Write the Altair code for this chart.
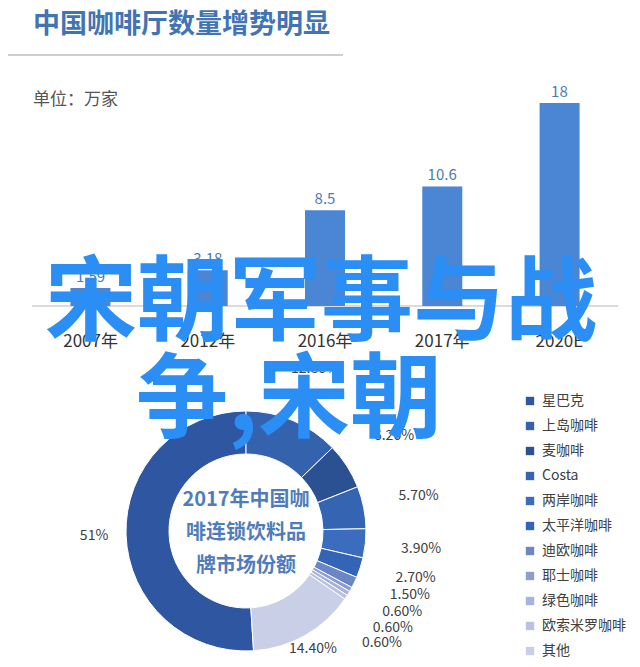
import math
import altair as alt
import pandas as pd

# ---------------- data ----------------
years = ["2007", "2012", "2016", "2017", "2020E"]
year_labels = ["2007年", "2012年", "2016年", "2017年", "2020E"]
shops = [1.59, 3.18, 8.5, 10.6, 18]

brands = ["星巴克", "上岛咖啡", "麦咖啡", "Costa", "两岸咖啡", "太平洋咖啡",
          "迪欧咖啡", "耶士咖啡", "绿色咖啡", "欧索米罗咖啡", "其他"]
shares = [51, 12.8, 6.2, 5.7, 3.9, 2.7, 1.5, 0.6, 0.6, 0.6, 14.4]
share_labels = ["51%", "12.80%", "6.20%", "5.70%", "3.90%", "2.70%",
                "1.50%", "0.60%", "0.60%", "0.60%", "14.40%"]
# position of each brand in the clockwise drawing order from 12 o'clock
draw_order = [10, 0, 1, 2, 3, 4, 5, 6, 7, 8, 9]
brand_colors = ["#2e56a1", "#3562ad", "#2c5193", "#3565b2", "#3b6cbd", "#3464b5",
                "#6a86c4", "#8c9dcf", "#a6b3da", "#b9c2e1", "#c9cfe7"]

FONT = "Noto Sans CJK SC"

# ---------------- bar chart ----------------
bar_df = pd.DataFrame({"year": years, "label": year_labels, "value": shops})
xs = alt.Scale(domain=years, range=[24, 610], paddingInner=0.659, paddingOuter=0.3275)
ys = alt.Scale(domain=[0, 18], range=[298, 95])

bars = alt.Chart(bar_df).mark_bar(color="#4a86d4").encode(
    x=alt.X("year:N", scale=xs, axis=None),
    y=alt.Y("value:Q", scale=ys, axis=None),
)
bar_text = alt.Chart(bar_df).mark_text(
    baseline="bottom", dy=-3, fontSize=15, font=FONT, color="#4a7bb8"
).encode(
    x=alt.X("year:N", scale=xs, axis=None),
    y=alt.Y("value:Q", scale=ys, axis=None),
    text="value:N",
)
year_text = alt.Chart(bar_df).mark_text(
    baseline="middle", fontSize=17, font=FONT, color="#333333"
).encode(
    x=alt.X("year:N", scale=xs, axis=None),
    y=alt.value(334),
    text="label:N",
)
baseline = alt.Chart(bar_df).mark_rule(color="#d9d9d9", strokeWidth=1).encode(
    y=alt.value(298), x=alt.value(24), x2=alt.value(610)
)

# ---------------- titles ----------------
one = pd.DataFrame({"t": ["中国咖啡厅数量增势明显"]})
title = alt.Chart(one).mark_text(
    align="left", baseline="middle", fontSize=27, fontWeight="bold",
    font=FONT, color="#4274b3"
).encode(x=alt.value(25), y=alt.value(17), text="t:N")
title_rule = alt.Chart(one).mark_rule(color="#bfbfbf", strokeWidth=1.5).encode(
    x=alt.value(0), x2=alt.value(335), y=alt.value(47)
)
unit = alt.Chart(pd.DataFrame({"t": ["单位：万家"]})).mark_text(
    align="left", baseline="middle", fontSize=17, font=FONT, color="#555555"
).encode(x=alt.value(25), y=alt.value(92), text="t:N")

# ---------------- donut ----------------
CX, CY, R_OUT, R_IN = 238, 523, 120, 77
pie_df = pd.DataFrame({
    "brand": brands,
    "share": shares,
    "label": share_labels,
    "ord": draw_order,
})

donut = alt.Chart(pie_df).mark_arc(
    innerRadius=R_IN, outerRadius=R_OUT, stroke="white", strokeWidth=1
).encode(
    theta=alt.Theta("share:Q", stack=True),
    order=alt.Order("ord:Q"),
    color=alt.Color(
        "brand:N",
        scale=alt.Scale(domain=brands, range=brand_colors),
        legend=alt.Legend(
            title=None, orient="none", legendX=515, legendY=386,
            symbolType="square", symbolSize=70, symbolStrokeWidth=0,
            labelFontSize=14, labelFont=FONT, labelColor="#404040",
            rowPadding=11, labelOffset=5, padding=0,
        ),
    ),
    x=alt.value(CX), y=alt.value(CY),
)

# label angles: mid angle of each slice, spread apart where crowded
order_idx = sorted(range(len(brands)), key=lambda i: draw_order[i])
cum = 0.0
mids = {}
for i in order_idx:
    mids[i] = (cum + shares[i] / 2) / 100 * 360
    cum += shares[i]
right = [i for i in order_idx if mids[i] < 180]
ang = [mids[i] for i in right]
gap = 6.0
for _ in range(300):
    for k in range(len(ang) - 1):
        d = ang[k + 1] - ang[k]
        if d < gap:
            s = (gap - d) / 2
            ang[k] -= s
            ang[k + 1] += s
for k, i in enumerate(right):
    mids[i] = ang[k]


def label_radius(a):
    if 135 < a < 225:
        return 136
    if a >= 225:
        return 152
    return 176


pie_df["lx"] = [CX + label_radius(mids[i]) * math.sin(math.radians(mids[i]))
                for i in range(len(brands))]
pie_df["ly"] = [CY - label_radius(mids[i]) * math.cos(math.radians(mids[i]))
                for i in range(len(brands))]

pie_labels = alt.Chart(pie_df).mark_text(
    fontSize=14, font=FONT, color="#404040", align="center", baseline="middle"
).encode(
    x=alt.X("lx:Q", scale=None, axis=None),
    y=alt.Y("ly:Q", scale=None, axis=None),
    text="label:N",
)

center_text = alt.Chart(pd.DataFrame({"t": [0]})).mark_text(
    text=["2017年中国咖", "啡连锁饮料品", "牌市场份额"],
    lineHeight=33, fontSize=20, fontWeight="bold", font=FONT,
    color="#4f7cba", align="center", baseline="middle",
).encode(x=alt.value(CX), y=alt.value(CY - 31))

# ---------------- overlay text ----------------
ov1 = alt.Chart(pd.DataFrame({"t": ["宋朝军事与战"]})).mark_text(
    fontSize=92, fontWeight="bold", font=FONT, color="#2b8ef5",
    align="center", baseline="middle"
).encode(x=alt.value(313), y=alt.value(297), text="t:N")
ov2 = alt.Chart(pd.DataFrame({"t": ["争,宋朝"]})).mark_text(
    fontSize=92, fontWeight="bold", font=FONT, color="#2b8ef5",
    align="center", baseline="middle"
).encode(x=alt.value(281), y=alt.value(394), text="t:N")

chart = alt.layer(
    title_rule, title, unit, baseline, bars, bar_text, year_text,
    donut, center_text, pie_labels, ov1, ov2
).resolve_scale(x="independent", y="independent").properties(
    width=624, height=651, padding=0,
    autosize=alt.AutoSizeParams(type="none"),
    background="white",
).configure_view(stroke=None)

chart.save("out.html", embed_options={"renderer": "svg", "actions": False})
